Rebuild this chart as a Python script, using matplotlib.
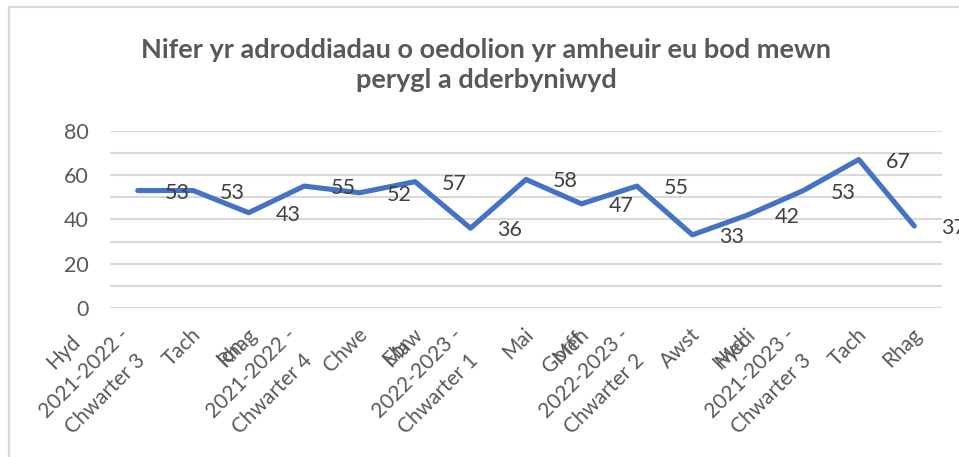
import matplotlib.pyplot as plt
from matplotlib.patches import Rectangle

plt.rcParams['font.family'] = ['Lato', 'DejaVu Sans']

# monthly counts, Oct 2021 - Dec 2022
months = ['Hyd', 'Tach', 'Rhag', 'Ion', 'Chwe', 'Maw', 'Ebr', 'Mai', 'Meh',
          'Gorff', 'Awst', 'Medi', 'Hyd', 'Tach', 'Rhag']
quarters = ['2021-2022 -\nChwarter 3', '', '', '2021-2022 -\nChwarter 4', '', '',
            '2022-2023 -\nChwarter 1', '', '', '2022-2023 -\nChwarter 2', '', '',
            '2021-2023 -\nChwarter 3', '', '']
counts = [53, 53, 43, 55, 52, 57, 36, 58, 47, 55, 33, 42, 53, 67, 37]

title = 'Nifer yr adroddiadau o oedolion yr amheuir eu bod mewn\nperygl a dderbyniwyd'

W, H = 959, 457
PX = 0.72  # points per pixel at dpi 100
fig = plt.figure(figsize=(W / 100, H / 100), dpi=100)
ax = fig.add_axes([110 / W, 1 - 308 / H, 832 / W, (308 - 130.7) / H])

x = list(range(len(counts)))
ax.plot(x, counts, color='#4472C4', lw=3.7, solid_capstyle='round', solid_joinstyle='round', zorder=3)

for i, v in zip(x, counts):
    ax.annotate(str(v), (i, v), xytext=(27 * PX, 0), textcoords='offset points',
                ha='left', va='center_baseline', fontsize=15.5, color='#404040')

ax.set_xlim(-0.5, len(counts) - 0.5)
ax.set_ylim(0, 80)
ax.set_yticks(range(0, 81, 10))
ax.set_yticklabels([str(t) if t % 20 == 0 else '' for t in range(0, 81, 10)])
ax.grid(axis='y', color='#d9d9d9', lw=1.5)
ax.set_axisbelow(True)
ax.tick_params(axis='y', length=0, pad=15.5, labelsize=15.5, labelcolor='#595959')
ax.set_xticks([])
for s in ax.spines.values():
    s.set_visible(False)

# category labels at 45 deg; first month of a quarter gets the quarter name
# stacked under it as a centred block
lab = dict(xycoords=('data', 'axes fraction'), textcoords='offset points',
           rotation=45, rotation_mode='anchor', va='center', fontsize=15, color='#595959')
for i, m, q in zip(x, months, quarters):
    if q:
        for k, line in enumerate([m] + q.split('\n')):
            ax.annotate(line, (i, 0), xytext=((-74 + 21 * k) * PX, -(44 + 21 * k) * PX),
                        ha='center', **lab)
    else:
        ax.annotate(m, (i, 0), xytext=(4.5 * PX, -23.5 * PX), ha='right', **lab)

fig.text(486 / W, 1 - 65 / H, title, ha='center', va='center', fontsize=19.5,
         fontweight='bold', color='#595959', linespacing=1.25)

fig.add_artist(Rectangle((9 / W, -0.1), 2, 1.1 - 7 / H, transform=fig.transFigure,
                         fill=False, edgecolor='#d9d9d9', lw=1.6))

fig.savefig('out.png', dpi=100)
